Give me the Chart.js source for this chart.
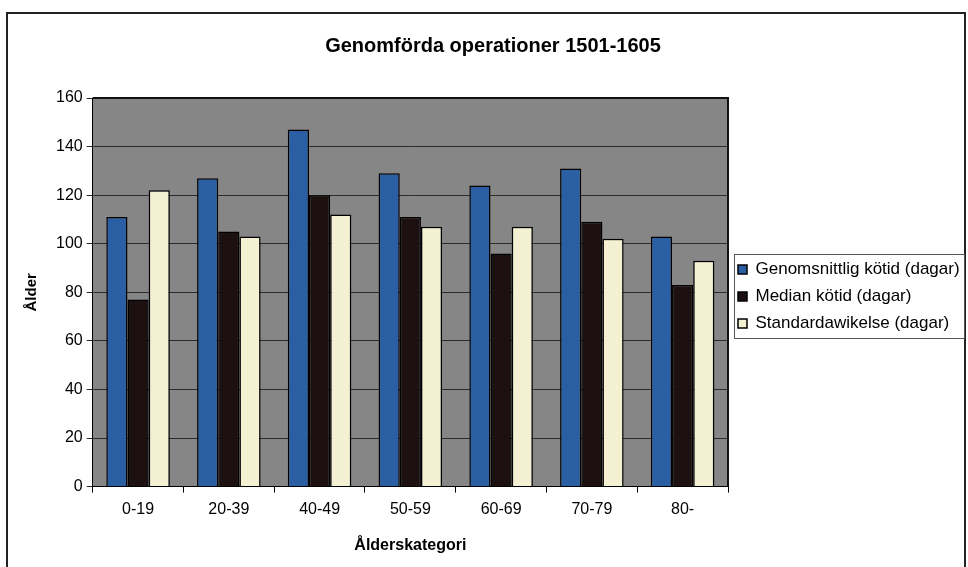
<!DOCTYPE html>
<html>
<head>
<meta charset="utf-8">
<script src="https://cdn.jsdelivr.net/npm/chart.js@4/dist/chart.umd.min.js"></script>
<style>
  html, body { margin: 0; padding: 0; background: #fff; overflow: hidden; }
  #wrap { width: 968px; height: 567px; }
</style>
</head>
<body>
<div id="wrap"><canvas id="opChart" width="968" height="567"></canvas></div>
<script>
  const categories = ['0-19', '20-39', '40-49', '50-59', '60-69', '70-79', '80-'];
  const meanWait = [111, 127, 147, 129, 124, 131, 103];
  const medianWait = [77, 105, 120, 111, 96, 109, 83];
  const stdDev = [122, 103, 112, 107, 107, 102, 93];
  const yTicks = [0, 20, 40, 60, 80, 100, 120, 140, 160];

  const font = 'Liberation Sans, Arial, sans-serif';

  // grey plot area, outer frame and a box round the legend
  const decor = {
    id: 'decor',
    beforeDraw(chart) {
      const c = chart.ctx;
      const a = chart.chartArea;
      c.save();
      c.fillStyle = '#fff';
      c.fillRect(0, 0, chart.width, chart.height);
      c.fillStyle = '#868686';
      c.fillRect(a.left, a.top, a.right - a.left, a.bottom - a.top);
      c.strokeStyle = '#222';
      c.lineWidth = 2;
      c.strokeRect(7, 13, 958, 620);
      c.restore();
    },
    afterDraw(chart) {
      const c = chart.ctx;
      const a = chart.chartArea;
      c.save();
      c.strokeStyle = '#111';
      c.lineWidth = 2;
      c.beginPath();
      c.moveTo(a.left, a.top);
      c.lineTo(a.right, a.top);
      c.lineTo(a.right, a.bottom);
      c.stroke();
      const boxes = chart.legend.legendHitBoxes;
      if (boxes && boxes.length) {
        let l = Infinity, t = Infinity, r = -Infinity, b = -Infinity;
        boxes.forEach(h => {
          l = Math.min(l, h.left); t = Math.min(t, h.top);
          r = Math.max(r, h.left + h.width); b = Math.max(b, h.top + h.height);
        });
        c.strokeStyle = '#555';
        c.lineWidth = 1;
        c.strokeRect(Math.round(l - 4) + 0.5, Math.round(t - 7) + 0.5, Math.round(r - l + 8), Math.round(b - t + 13));
      }
      c.restore();
    }
  };

  const ctx = document.getElementById('opChart').getContext('2d');
  new Chart(ctx, {
    type: 'bar',
    data: {
      labels: categories,
      datasets: [
        { label: 'Genomsnittlig kötid (dagar)', data: meanWait, backgroundColor: '#2b5fa3' },
        { label: 'Median kötid (dagar)', data: medianWait, backgroundColor: '#1c1011' },
        { label: 'Standardawikelse (dagar)', data: stdDev, backgroundColor: '#f3f1d2' }
      ]
    },
    options: {
      responsive: false,
      animation: false,
      devicePixelRatio: 1,
      datasets: {
        bar: {
          borderColor: '#000',
          borderWidth: 1.5,
          categoryPercentage: 0.7,
          barPercentage: 1.0
        }
      },
      layout: { padding: { top: 14, left: 23, right: 5, bottom: 8 } },
      plugins: {
        title: {
          display: true,
          text: 'Genomförda operationer 1501-1605',
          color: '#000',
          font: { family: font, size: 20, weight: 'bold' },
          padding: { top: 20, bottom: 40 }
        },
        legend: {
          position: 'right',
          // empty legend title only nudges the entries down a little
          title: { display: true, text: ' ', font: { size: 10 }, padding: { top: 4, bottom: 4 } },
          labels: {
            color: '#000',
            font: { family: font, size: 17 },
            boxWidth: 9,
            boxHeight: 9,
            padding: 10,
            useBorderRadius: false
          }
        },
        tooltip: { enabled: false }
      },
      scales: {
        x: {
          grid: { display: true, drawOnChartArea: false, drawTicks: true, tickLength: 6, color: '#000', offset: true },
          border: { color: '#000', width: 1 },
          ticks: { color: '#000', font: { family: font, size: 16 }, padding: 7 },
          title: {
            display: true,
            text: 'Ålderskategori',
            color: '#000',
            font: { family: font, size: 16, weight: 'bold' },
            padding: { top: 10, bottom: 4 }
          }
        },
        y: {
          min: 0,
          max: 160,
          afterBuildTicks(scale) { scale.ticks = yTicks.map(v => ({ value: v })); },
          grid: { color: '#2c2c2c', lineWidth: 1, drawTicks: true, tickLength: 6 },
          border: { color: '#000', width: 1 },
          ticks: { color: '#000', font: { family: font, size: 16 }, padding: 4 },
          title: {
            display: true,
            text: 'Ålder',
            color: '#000',
            font: { family: font, size: 15, weight: 'bold' },
            padding: { top: 0, bottom: 11 }
          }
        }
      }
    },
    plugins: [decor]
  });
</script>
</body>
</html>
